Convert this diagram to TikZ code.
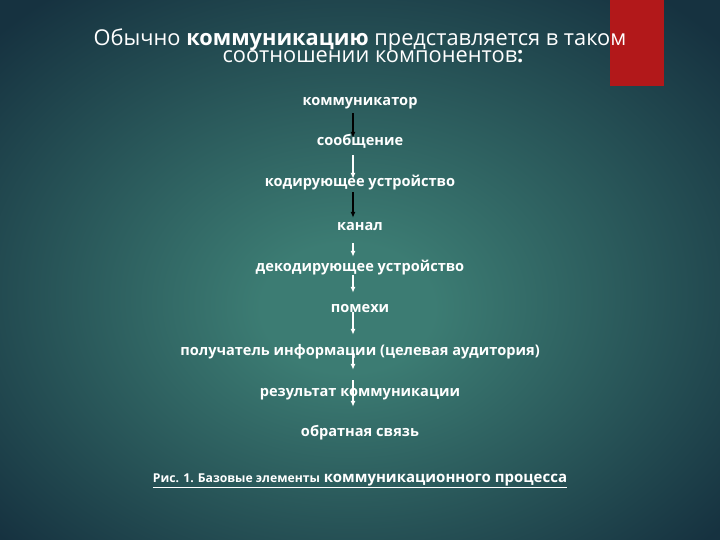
\documentclass[tikz,border=0pt]{standalone}
\usepackage{fontspec}
\setmainfont{Open Sans}
\usetikzlibrary{arrows.meta}

\definecolor{bgin}{RGB}{60,124,115}
\definecolor{bgout}{RGB}{22,50,64}
\definecolor{barred}{RGB}{178,24,26}

\pgfdeclareradialshading{slidebg}{\pgfpoint{-1bp}{-4bp}}{color(0bp)=(bgin); color(6bp)=(bgin); color(34bp)=(bgout); color(50bp)=(bgout)}

\tikzset{
  headtext/.style={anchor=base, inner sep=0pt, text=white, font=\fontsize{21.8}{22}\selectfont},
  item/.style={anchor=base, inner sep=0pt, text height=8pt, text depth=0pt, text=white, font=\bfseries\fontsize{14.6}{16}\selectfont},
  captext/.style={anchor=base, inner sep=0pt, text=white, font=\bfseries\fontsize{15}{16}\selectfont},
  blackarrow/.style={-{Latex[length=6pt,width=5pt]}, line width=1.4pt, black},
  whitearrow/.style={blackarrow, white},
}

\begin{document}
\begin{tikzpicture}[x=1pt,y=-1pt]

% slide background
\shade[shading=slidebg] (0,0) rectangle (720,540);
\fill[barred] (610,0) rectangle (664,86);
\useasboundingbox (0,0) rectangle (720,540);

% heading
\node[headtext] (head1) at (360,46) {Обычно \textbf{коммуникацию} представляется в таком};
\node[headtext] (head2) at (373,63) {соотношении компонентов\textbf{:}};

% chain of elements:
\node[item] (komm) at (360,106) {коммуникатор};
\node[item] (soob) at (360,146) {сообщение};
\node[item] (kod) at (360,187) {кодирующее устройство};
\node[item] (kanal) at (360,230) {канал};
\node[item] (dekod) at (360,271) {декодирующее устройство};
\node[item] (pomehi) at (360,312) {помехи};
\node[item] (poluch) at (360,355) {получатель информации (целевая аудитория)};
\node[item] (rezult) at (360,396) {результат коммуникации};
\node[item] (obrat) at (360,436) {обратная связь};
\coordinate (axis) at (353,0);

\draw[blackarrow,shorten <=7pt] (komm.south -| axis) -- (soob.north -| axis);
\draw[whitearrow,shorten <=9pt] (soob.south -| axis) -- (kod.north -| axis);
\draw[blackarrow,shorten <=5pt,shorten >=4pt] (kod.south -| axis) -- (kanal.north -| axis);
\draw[whitearrow,shorten <=13pt,shorten >=6pt] (kanal.south -| axis) -- (dekod.north -| axis);
\draw[whitearrow,shorten <=4pt,shorten >=11pt] (dekod.south -| axis) -- (pomehi.north -| axis);
\draw[whitearrow,shorten >=12pt] (pomehi.south -| axis) -- (poluch.north -| axis);
\draw[whitearrow,shorten <=-5pt,shorten >=18pt] (poluch.south -| axis) -- (rezult.north -| axis);
\draw[whitearrow,shorten <=-16pt,shorten >=21pt] (rezult.south -| axis) -- (obrat.north -| axis);

% caption
\node[captext] (caption) at (360,482) {\underline{{\fontsize{12.2}{13}\selectfont Рис. 1. Базовые элементы} коммуникационного процесса}};

\end{tikzpicture}
\end{document}
